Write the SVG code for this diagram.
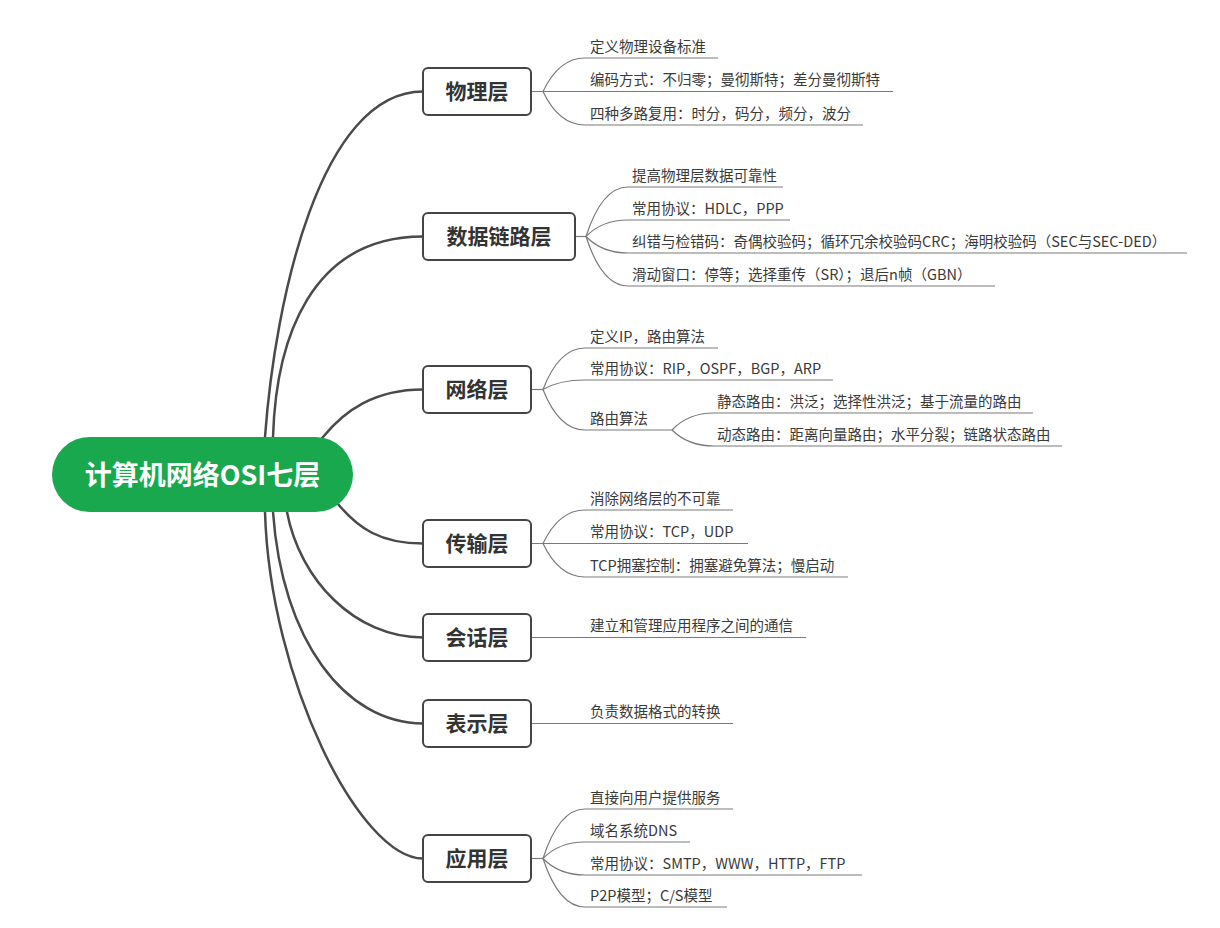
<svg xmlns="http://www.w3.org/2000/svg" width="1220" height="928" viewBox="0 0 1220 928">
<style>
.main{fill:none;stroke:#4a4a4a;stroke-width:2.5;stroke-linecap:round}
.leaf{fill:none;stroke:#7a7a7a;stroke-width:1.2}
.box{fill:#fff;stroke:#454545;stroke-width:2}
.bt{font-family:"Noto Sans CJK SC","Noto Sans",sans-serif;font-size:21px;font-weight:bold;fill:#333;text-anchor:middle}
.lt{font-family:"Noto Sans CJK SC","Noto Sans",sans-serif;font-size:14.5px;fill:#3a3a3a}
.rt{font-family:"Noto Sans CJK SC","Noto Sans",sans-serif;font-size:27px;font-weight:bold;fill:#fff;text-anchor:middle}
</style>
<rect width="1220" height="928" fill="#fff"/>
<g id="connectors">
<path class="main" d="M264,470 L265,437 C275,300 320,91.5 423,91.5"/>
<path class="main" d="M272,470 L273,437 C276,340 310,236.5 423,236.5"/>
<path class="main" d="M300,465 L323,437 C345,410 375,389.5 423,389.5"/>
<path class="main" d="M318,484 L338,504 C358,528 380,543.5 423,543.5"/>
<path class="main" d="M287,490 L287,512 C300,580 355,637.5 423,637.5"/>
<path class="main" d="M273,490 L273,512 C282,640 345,723.5 423,723.5"/>
<path class="main" d="M265,490 L265,512 C270,680 360,858.5 423,858.5"/>
<!-- physical -->
<path class="leaf" d="M543,91.5 Q559,58 585,58 H718"/>
<path class="leaf" d="M531,91.5 H893"/>
<path class="leaf" d="M543,91.5 Q559,125 585,125 H863"/>
<!-- data link -->
<path class="leaf" d="M575,236.5 H586"/>
<path class="leaf" d="M586,236.5 Q602,187 628,187 H783"/>
<path class="leaf" d="M586,236.5 Q602,220 628,220 H790"/>
<path class="leaf" d="M586,236.5 Q602,253 628,253 H1187"/>
<path class="leaf" d="M586,236.5 Q602,286 628,286 H995"/>
<!-- network -->
<path class="leaf" d="M531,389.5 H543"/>
<path class="leaf" d="M543,389.5 Q559,348 585,348 H718"/>
<path class="leaf" d="M543,389.5 Q559,380 585,380 H833"/>
<path class="leaf" d="M543,389.5 Q559,430 585,430 H672"/>
<path class="leaf" d="M672,430 Q688,413 714,413 H1033"/>
<path class="leaf" d="M672,430 Q688,446 714,446 H1062"/>
<!-- transport -->
<path class="leaf" d="M543,543.5 Q559,510 585,510 H733"/>
<path class="leaf" d="M531,543.5 H748"/>
<path class="leaf" d="M543,543.5 Q559,577 585,577 H848"/>
<!-- session / presentation -->
<path class="leaf" d="M531,637.5 H806"/>
<path class="leaf" d="M531,723.5 H733"/>
<!-- application -->
<path class="leaf" d="M531,858.5 H543"/>
<path class="leaf" d="M543,858.5 Q559,809 585,809 H733"/>
<path class="leaf" d="M543,858.5 Q559,842 585,842 H690"/>
<path class="leaf" d="M543,858.5 Q559,875 585,875 H862"/>
<path class="leaf" d="M543,858.5 Q559,907 585,907 H727"/>
</g>
<g id="root">
<rect x="52" y="437" width="301" height="75" rx="37.5" fill="#19a84d"/>
<text class="rt" x="202.5" y="485">计算机网络OSI七层</text>
</g>
<g id="physical">
<rect class="box" x="423" y="68" width="108" height="47" rx="5"/>
<text class="bt" x="477" y="99">物理层</text>
<text class="lt" x="590" y="51.5">定义物理设备标准</text>
<text class="lt" x="590" y="85">编码方式：不归零；曼彻斯特；差分曼彻斯特</text>
<text class="lt" x="590" y="118.5">四种多路复用：时分，码分，频分，波分</text>
</g>
<g id="datalink">
<rect class="box" x="423" y="213" width="152" height="47" rx="5"/>
<text class="bt" x="499" y="244">数据链路层</text>
<text class="lt" x="632" y="180.5">提高物理层数据可靠性</text>
<text class="lt" x="632" y="213.5">常用协议：HDLC，PPP</text>
<text class="lt" x="632" y="246.5">纠错与检错码：奇偶校验码；循环冗余校验码CRC；海明校验码（SEC与SEC-DED）</text>
<text class="lt" x="632" y="279.5">滑动窗口：停等；选择重传（SR）；退后n帧（GBN）</text>
</g>
<g id="network">
<rect class="box" x="423" y="366" width="108" height="47" rx="5"/>
<text class="bt" x="477" y="397">网络层</text>
<text class="lt" x="590" y="341.5">定义IP，路由算法</text>
<text class="lt" x="590" y="373.5">常用协议：RIP，OSPF，BGP，ARP</text>
<text class="lt" x="590" y="423.5">路由算法</text>
<text class="lt" x="717" y="406.5">静态路由：洪泛；选择性洪泛；基于流量的路由</text>
<text class="lt" x="717" y="439.5">动态路由：距离向量路由；水平分裂；链路状态路由</text>
</g>
<g id="transport">
<rect class="box" x="423" y="520" width="108" height="47" rx="5"/>
<text class="bt" x="477" y="551">传输层</text>
<text class="lt" x="590" y="503.5">消除网络层的不可靠</text>
<text class="lt" x="590" y="537">常用协议：TCP，UDP</text>
<text class="lt" x="590" y="570.5">TCP拥塞控制：拥塞避免算法；慢启动</text>
</g>
<g id="session">
<rect class="box" x="423" y="614" width="108" height="47" rx="5"/>
<text class="bt" x="477" y="645">会话层</text>
<text class="lt" x="590" y="631">建立和管理应用程序之间的通信</text>
</g>
<g id="presentation">
<rect class="box" x="423" y="700" width="108" height="47" rx="5"/>
<text class="bt" x="477" y="731">表示层</text>
<text class="lt" x="590" y="717">负责数据格式的转换</text>
</g>
<g id="application">
<rect class="box" x="423" y="835" width="108" height="47" rx="5"/>
<text class="bt" x="477" y="866">应用层</text>
<text class="lt" x="590" y="802.5">直接向用户提供服务</text>
<text class="lt" x="590" y="835.5">域名系统DNS</text>
<text class="lt" x="590" y="868.5">常用协议：SMTP，WWW，HTTP，FTP</text>
<text class="lt" x="590" y="900.5">P2P模型；C/S模型</text>
</g>
</svg>
